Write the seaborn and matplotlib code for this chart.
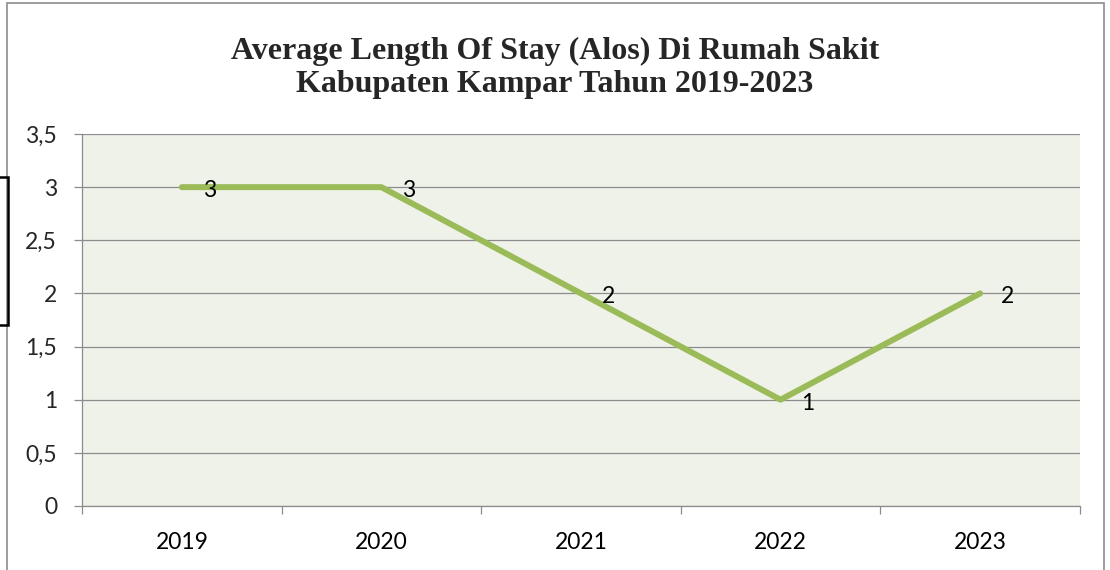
import numpy as np
import pandas as pd
import matplotlib
matplotlib.use("Agg")
import matplotlib.pyplot as plt
import seaborn as sns
from matplotlib.ticker import FuncFormatter, FixedLocator
from matplotlib.patches import Rectangle

# ---------------------------------------------------------
# DATA
# ---------------------------------------------------------
years = ["2019", "2020", "2021", "2022", "2023"]
alos = [3, 3, 2, 1, 2]
TITLE = "Average Length Of Stay (Alos) Di Rumah Sakit\nKabupaten Kampar Tahun 2019-2023"

df = pd.DataFrame({"Tahun": years, "ALOS": alos})

# ---------------------------------------------------------
# STYLE
# ---------------------------------------------------------
sns.set_theme(style="white")
plt.rcParams['font.family'] = ['Lato', 'DejaVu Sans']

LINE_COL = "#9BBB59"
BG_COL = "#EFF2E9"
GRID_COL = "#8C8C8C"
FS = 16.5

fig = plt.figure(figsize=(11.1, 5.7), dpi=100)
ax = fig.add_axes([0.0739, 0.1123, 0.899, 0.6526])
ax.set_facecolor(BG_COL)

sns.lineplot(data=df, x="Tahun", y="ALOS", ax=ax, color=LINE_COL,
             linewidth=4.3, sort=False, solid_capstyle="round", zorder=3)

# data labels
for i, v in enumerate(alos):
    ax.annotate(f"{v}", (i, v), xytext=(15, -2.5), textcoords="offset points",
                ha="left", va="center", fontsize=FS, color="black", zorder=4)

ax.set_ylim(0, 3.5)
ax.set_xlim(-0.5, len(years) - 0.5)
ax.set_yticks(np.arange(0, 3.51, 0.5))
ax.yaxis.set_major_formatter(FuncFormatter(lambda v, p: f"{v:g}".replace(".", ",")))
ax.grid(axis="y", color=GRID_COL, linewidth=0.9)
ax.set_axisbelow(True)

# tick marks between categories
ax.xaxis.set_minor_locator(FixedLocator(np.arange(-0.5, len(years), 1.0)))
ax.tick_params(axis="x", which="major", length=0, labelsize=FS, pad=19, colors="black")
ax.tick_params(axis="x", which="minor", length=6, width=0.9, color=GRID_COL, bottom=True)
ax.tick_params(axis="y", which="major", length=6, width=0.9, color=GRID_COL,
               labelsize=FS, pad=12, left=True)

for s in ["top", "right"]:
    ax.spines[s].set_visible(False)
for s in ["left", "bottom"]:
    ax.spines[s].set_color(GRID_COL)
    ax.spines[s].set_linewidth(0.9)

ax.set_xlabel("")
ax.set_ylabel("")

fig.text(0.5, 0.881, TITLE, ha="center", va="center", fontsize=23,
         fontweight="bold", family=["Liberation Serif", "DejaVu Serif"],
         linespacing=1.15)

# outer chart border
fig.patches.append(Rectangle((7 / 1110, -0.05), 1097 / 1110, 1.045, transform=fig.transFigure,
                             fill=False, edgecolor="#8C8C8C", linewidth=1.2))
# black box stub on the left edge
fig.patches.append(Rectangle((-0.01, 1 - 325 / 570), 19 / 1110, 148 / 570, transform=fig.transFigure,
                             fill=False, edgecolor="black", linewidth=1.8))

fig.savefig("out.png", dpi=100)
